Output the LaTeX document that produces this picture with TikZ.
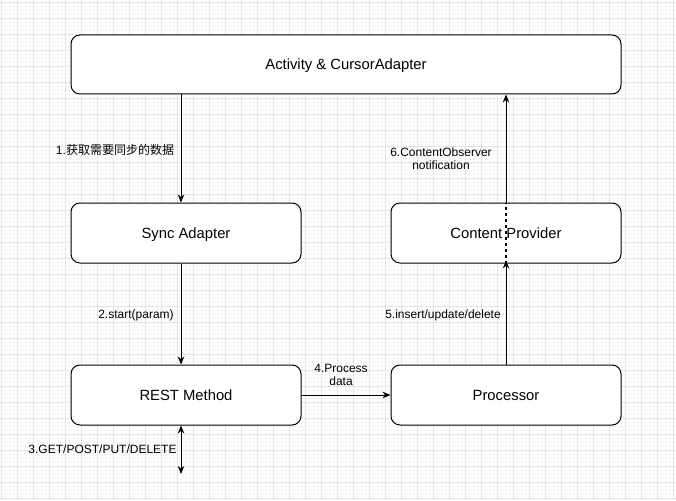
\documentclass[tikz,border=0pt]{standalone}
\usepackage{fontspec}
\setmainfont{Liberation Sans}
\newfontfamily\cjk{Noto Sans CJK SC}
\usetikzlibrary{arrows.meta}
\definecolor{gridmajor}{HTML}{E4E4E4}
\definecolor{gridminor}{HTML}{F6F6F6}
\begin{document}
\begin{tikzpicture}[x=1pt,y=-1pt,
  box/.style={draw,rounded corners=9pt,fill=white,line width=1pt,inner sep=0pt,
    text height=10.6pt,text depth=0pt,
    font=\fontsize{14.8}{17}\selectfont},
  lbl/.style={font=\fontsize{12}{13.4}\selectfont,align=center,inner sep=0pt},
  arr/.style={line width=1pt,-{Stealth[length=8pt,width=6.5pt]}},
  darr/.style={line width=1pt,{Stealth[length=8pt,width=6.5pt]}-{Stealth[length=8pt,width=6.5pt]}},
  dotline/.style={line width=2pt,dash pattern=on 2.5pt off 3.5pt}]
\useasboundingbox (0,0) rectangle (676,500);
\clip (0,0) rectangle (676,500);
\fill[white] (0,0) rectangle (676,500);
% grid
\foreach \i in {1,5,...,676} \draw[gridminor,line width=0.5pt] (\i,0) -- (\i,500);
\foreach \j in {2,6,...,500} \draw[gridminor,line width=0.5pt] (0,\j) -- (676,\j);
\foreach \i in {1,17,...,676} \draw[gridmajor,line width=0.7pt] (\i,0) -- (\i,500);
\foreach \j in {2,18,...,500} \draw[gridmajor,line width=0.7pt] (0,\j) -- (676,\j);
% boxes
\node[box,minimum width=550pt,minimum height=59pt] (act) at (346,64.5) {Activity \& CursorAdapter};
\node[box,minimum width=230pt,minimum height=60pt] (sync) at (186,233) {Sync Adapter};
\node[box,minimum width=230pt,minimum height=60pt] (rest) at (186,395) {REST Method};
\node[box,minimum width=230pt,minimum height=60pt] (cp) at (506,233) {Content Provider};
\node[box,minimum width=230pt,minimum height=60pt] (proc) at (506,395) {Processor};
\coordinate (rb) at (181,474);
% connectors
\draw[arr] ([xshift=-5pt]act.south -| sync.south) -- ([xshift=-5pt]sync.north);
\draw[arr] ([xshift=-5pt]sync.south) -- ([xshift=-5pt]rest.north);
\draw[darr] ([xshift=-5pt]rest.south) -- (rb);
\draw[arr] (rest.east) -- (proc.west);
\draw[arr] (proc.north) -- ([yshift=3pt]cp.south);
\draw[dotline] (cp.south) -- (cp.north);
\draw[arr] (cp.north) -- (act.south -| cp.north);
% labels
\node[lbl] (l1) at (115,150) {1.{\cjk 获取需要同步的数据}};
\node[lbl] (l2) at (136,315.5) {2.start(param)};
\node[lbl] (l3) at (102.5,449) {3.GET/POST/PUT/DELETE};
\node[lbl] (l4) at (341,375) {4.Process\\data};
\node[lbl] (l5) at (443,315) {5.insert/update/delete};
\node[lbl] (l6) at (441,159) {6.ContentObserver\\notification};
\end{tikzpicture}
\end{document}
